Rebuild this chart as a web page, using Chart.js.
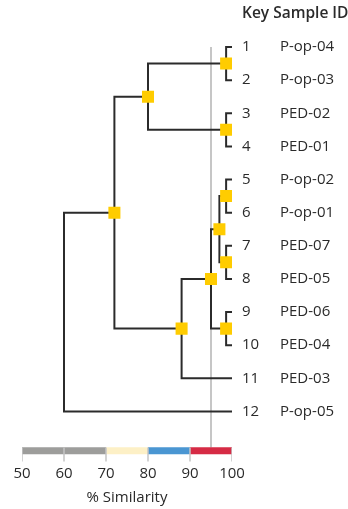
<!DOCTYPE html>
<html>
<head>
<meta charset="utf-8">
<script src="https://cdn.jsdelivr.net/npm/chart.js@4"></script>
<style>
  html, body { margin: 0; padding: 0; background: #fff; }
  #wrap { width: 348px; height: 509px; position: relative; }
</style>
</head>
<body>
<div id="wrap"><canvas id="dendro"></canvas></div>
<script>
// leaves, top to bottom
const leafNums = ['1', '2', '3', '4', '5', '6', '7', '8', '9', '10', '11', '12'];
const leafIds = ['P-op-04', 'P-op-03', 'PED-02', 'PED-01', 'P-op-02', 'P-op-01',
                 'PED-07', 'PED-05', 'PED-06', 'PED-04', 'PED-03', 'P-op-05'];

// merges: L# = leaf, N# = earlier merge
const mergeA = ['L1', 'L3', 'N0', 'L5', 'L7', 'N3', 'L9', 'N5', 'N7', 'N2', 'N9'];
const mergeB = ['L2', 'L4', 'N1', 'L6', 'L8', 'N4', 'L10', 'N6', 'L11', 'N8', 'L12'];
const mergeSim = [98.6, 98.6, 80, 98.6, 98.6, 97, 98.6, 95, 88, 72, 60];

// similarity scale
const tickValues = [50, 60, 70, 80, 90, 100];
const bandEdges = [50, 70, 80, 90, 100];
const bandColors = ['#9d9d9b', '#fdf0c6', '#4a96d2', '#d62b45'];
const cutoff = 95;

const FONT = "'Open Sans', 'DejaVu Sans', sans-serif";
const INK = '#2a2a2a';
const barY = 13.19;

// positions of leaves and nodes
const pos = {};
leafIds.forEach((id, i) => { pos['L' + (i + 1)] = {x: 100, y: i + 1}; });
mergeSim.forEach((s, i) => {
    const a = pos[mergeA[i]], b = pos[mergeB[i]];
    pos['N' + i] = {x: s, y: (a.y + b.y) / 2};
});

const datasets = [];

// node squares (root has none)
datasets.push({
    data: mergeSim.slice(0, -1).map((s, i) => ({x: pos['N' + i].x, y: pos['N' + i].y})),
    pointStyle: 'rect',
    pointRadius: 8.5,
    pointBackgroundColor: '#ffcc00',
    pointBorderWidth: 0,
    showLine: false,
    order: 0
});

// scale ticks over the bar
tickValues.forEach(v => {
    datasets.push({
        data: [{x: v, y: 13.09}, {x: v, y: 13.51}],
        showLine: true, borderColor: '#c4c4c4', borderWidth: 1.5,
        pointRadius: 0, order: 1
    });
});

// colour bands
bandColors.forEach((c, i) => {
    datasets.push({
        data: [{x: bandEdges[i], y: barY}, {x: bandEdges[i + 1], y: barY}],
        showLine: true, borderColor: c, borderWidth: 7, borderCapStyle: 'butt',
        pointRadius: 0, order: 2
    });
});

// tree brackets
mergeSim.forEach((s, i) => {
    const a = pos[mergeA[i]], b = pos[mergeB[i]];
    datasets.push({
        data: [{x: a.x, y: a.y}, {x: s, y: a.y}, {x: s, y: b.y}, {x: b.x, y: b.y}],
        showLine: true, borderColor: '#2b2b2b', borderWidth: 2,
        borderJoinStyle: 'miter', borderCapStyle: 'butt',
        pointRadius: 0, order: 3
    });
});

// cutoff line
datasets.push({
    data: [{x: cutoff, y: 1}, {x: cutoff, y: 13.09}],
    showLine: true, borderColor: '#c6c6c6', borderWidth: 2,
    pointRadius: 0, order: 4
});

const labelPlugin = {
    id: 'leafLabels',
    afterDraw(chart) {
        const ctx = chart.ctx;
        const ys = chart.scales.y;
        ctx.save();
        ctx.fillStyle = INK;
        ctx.textAlign = 'left';
        ctx.textBaseline = 'middle';
        ctx.font = "600 15.5px " + FONT;
        ctx.fillText('Key Sample ID', 242, 14);
        ctx.font = "15px " + FONT;
        leafIds.forEach((id, i) => {
            const py = ys.getPixelForValue(i + 1);
            ctx.fillText(leafNums[i], 242, py);
            ctx.fillText(id, 280, py);
        });
        ctx.restore();
    }
};

new Chart(document.getElementById('dendro'), {
    type: 'scatter',
    data: {datasets: datasets},
    options: {
        responsive: true,
        maintainAspectRatio: false,
        animation: false,
        layout: {padding: {left: 22, right: 116, top: 30.45, bottom: 2.2}},
        plugins: {legend: {display: false}, tooltip: {enabled: false}},
        scales: {
            x: {
                type: 'linear', min: 50, max: 100,
                afterBuildTicks: s => { s.ticks = tickValues.map(v => ({value: v})); },
                grid: {display: false, drawTicks: false},
                border: {display: false},
                ticks: {color: INK, font: {family: FONT, size: 15}, padding: 2},
                title: {display: true, text: '% Similarity', color: INK,
                        font: {family: FONT, size: 15}, padding: {top: 4, bottom: 0}}
            },
            y: {
                type: 'linear', reverse: true, min: 0.5, max: 13.55,
                display: false
            }
        }
    },
    plugins: [labelPlugin]
});
</script>
</body>
</html>
